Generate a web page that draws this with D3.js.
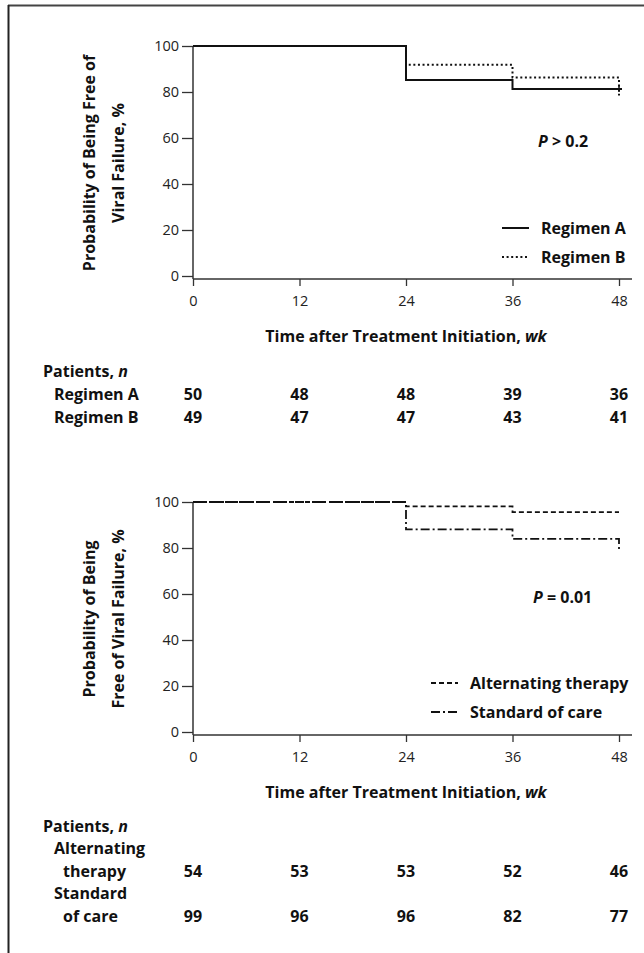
<!DOCTYPE html>
<html>
<head>
<meta charset="utf-8">
<script src="https://cdn.jsdelivr.net/npm/d3@7"></script>
<style>
  body { margin: 0; background: #fff; }
  svg text { font-family: "Open Sans", "Noto Sans", sans-serif; fill: #111; }
  .tick text { font-size: 14.5px; font-weight: 400; fill: #222; }
  .lbl { font-size: 16px; font-weight: 700; }
</style>
</head>
<body>
<svg id="chart"></svg>
<script>
const width = 644;
const height = 953;

const weeks = [0, 12, 24, 36, 48];
const yTicks = [0, 20, 40, 60, 80, 100];

// top panel: regimen A vs B
const regimenA = [{wk: 0, p: 100}, {wk: 24, p: 85.2}, {wk: 36, p: 81.3}, {wk: 48, p: 81.3}];
const regimenB = [{wk: 0, p: 100}, {wk: 24, p: 91.8}, {wk: 36, p: 86.3}, {wk: 48, p: 78.5}];
const regimenACensor = [48];
const atRiskA = [50, 48, 48, 39, 36];
const atRiskB = [49, 47, 47, 43, 41];

// bottom panel: alternating therapy vs standard of care
const alternating = [{wk: 0, p: 100}, {wk: 24, p: 98.1}, {wk: 36, p: 95.6}, {wk: 48, p: 95.6}];
const standard = [{wk: 0, p: 100}, {wk: 24, p: 88.1}, {wk: 36, p: 84.0}, {wk: 48, p: 78.7}];
const atRiskAlt = [54, 53, 53, 52, 46];
const atRiskStd = [99, 96, 96, 82, 77];

const svg = d3.select("#chart")
    .attr("width", width)
    .attr("height", height);

// frame lines (top and left only)
svg.append("line").attr("x1", 8).attr("x2", width).attr("y1", 5.5).attr("y2", 5.5)
    .attr("stroke", "#444").attr("stroke-width", 2);
svg.append("line").attr("x1", 8.5).attr("x2", 8.5).attr("y1", 5).attr("y2", height)
    .attr("stroke", "#222").attr("stroke-width", 2);

const x = d3.scaleLinear().domain([0, 48]).range([193, 619]);

const styles = {
    solid: {dash: null, w: 2},
    dotted: {dash: "2,2.6", w: 2},
    dashed: {dash: "5,3", w: 1.8},
    dashdot: {dash: "9,3,2,3", w: 1.8}
};

function drawPanel(cfg) {
    const y = d3.scaleLinear().domain([0, 100]).range([cfg.top + 230, cfg.top]);
    const axisY = cfg.top + 233;
    const g = svg.append("g");

    // y axis
    const yAxis = g.append("g")
        .attr("transform", `translate(${x(0)},0)`)
        .call(d3.axisLeft(y).tickValues(yTicks).tickSize(11).tickPadding(3));
    yAxis.select(".domain").remove();
    yAxis.selectAll("line").attr("stroke", "#333").attr("stroke-width", 1.3);

    // x axis
    const xAxis = g.append("g")
        .attr("transform", `translate(0,${axisY})`)
        .call(d3.axisBottom(x).tickValues(weeks).tickSize(7).tickPadding(10));
    xAxis.select(".domain").remove();
    xAxis.selectAll("line").attr("stroke", "#333").attr("stroke-width", 1.3);

    g.append("line").attr("x1", x(0)).attr("x2", x(0)).attr("y1", y(100)).attr("y2", axisY)
        .attr("stroke", "#333").attr("stroke-width", 1.5);
    g.append("line").attr("x1", x(0)).attr("x2", 632).attr("y1", axisY).attr("y2", axisY)
        .attr("stroke", "#333").attr("stroke-width", 1.5);

    // y axis title
    cfg.yTitle.forEach((t, i) => {
        g.append("text")
            .attr("class", "lbl")
            .attr("transform", `translate(${89 + i * 29},${cfg.top + 117}) rotate(-90)`)
            .attr("text-anchor", "middle")
            .attr("dominant-baseline", "central")
            .text(t);
    });

    // x axis title
    const xt = g.append("text")
        .attr("class", "lbl")
        .attr("x", 406).attr("y", cfg.top + 290)
        .attr("text-anchor", "middle")
        .attr("dominant-baseline", "central");
    xt.append("tspan").text("Time after Treatment Initiation, ");
    xt.append("tspan").attr("font-style", "italic").text("wk");

    // curves
    const line = d3.line().x(d => x(d.wk)).y(d => y(d.p)).curve(d3.curveStepAfter);
    cfg.series.forEach(s => {
        const st = styles[s.style];
        g.append("path")
            .datum(s.data)
            .attr("d", line)
            .attr("fill", "none")
            .attr("stroke", "#111")
            .attr("stroke-width", st.w)
            .attr("stroke-dasharray", st.dash);
        (s.censor || []).forEach(c => {
            const last = s.data[s.data.length - 1];
            g.append("line")
                .attr("x1", x(c)).attr("x2", x(c))
                .attr("y1", y(last.p) - 3).attr("y2", y(last.p) + 3)
                .attr("stroke", "#111").attr("stroke-width", 1.5);
            g.append("line")
                .attr("x1", x(c) - 3).attr("x2", x(c) + 3)
                .attr("y1", y(last.p)).attr("y2", y(last.p))
                .attr("stroke", "#111").attr("stroke-width", 2);
        });
    });

    // legend
    cfg.series.forEach((s, i) => {
        const st = styles[s.style];
        const ly = cfg.top + cfg.legendY + i * 29;
        g.append("line")
            .attr("x1", cfg.legendX).attr("x2", cfg.legendX + 27)
            .attr("y1", ly).attr("y2", ly)
            .attr("stroke", "#111")
            .attr("stroke-width", st.w)
            .attr("stroke-dasharray", st.dash);
        g.append("text")
            .attr("class", "lbl")
            .attr("x", cfg.legendX + 39).attr("y", ly)
            .attr("dominant-baseline", "central")
            .text(s.name);
    });

    // P value
    const pt = g.append("text")
        .attr("class", "lbl")
        .attr("x", cfg.pX).attr("y", y(58.5))
        .attr("dominant-baseline", "central");
    pt.append("tspan").attr("font-style", "italic").text("P");
    pt.append("tspan").text(cfg.pText);
}

drawPanel({
    top: 46,
    yTitle: ["Probability of Being Free of", "Viral Failure, %"],
    series: [
        {name: "Regimen A", data: regimenA, style: "solid", censor: regimenACensor},
        {name: "Regimen B", data: regimenB, style: "dotted"}
    ],
    legendX: 502, legendY: 182,
    pX: 538, pText: " > 0.2"
});

drawPanel({
    top: 502,
    yTitle: ["Probability of Being", "Free of Viral Failure, %"],
    series: [
        {name: "Alternating therapy", data: alternating, style: "dashed"},
        {name: "Standard of care", data: standard, style: "dashdot"}
    ],
    legendX: 431, legendY: 181,
    pX: 533, pText: " = 0.01"
});

// number-at-risk tables
function drawTable(top, rows) {
    const pl = svg.append("text")
        .attr("class", "lbl")
        .attr("x", 43).attr("y", top)
        .attr("dominant-baseline", "central");
    pl.append("tspan").text("Patients, ");
    pl.append("tspan").attr("font-style", "italic").text("n");

    rows.forEach(r => {
        r.label.forEach((t, i) => {
            svg.append("text")
                .attr("class", "lbl")
                .attr("x", i === 0 ? 54 : 63)
                .attr("y", r.y - (r.label.length - 1 - i) * 23)
                .attr("dominant-baseline", "central")
                .text(t);
        });
        svg.selectAll(null)
            .data(r.values)
            .enter()
            .append("text")
            .attr("class", "lbl")
            .attr("x", (d, i) => x(weeks[i]))
            .attr("y", r.y)
            .attr("text-anchor", "middle")
            .attr("dominant-baseline", "central")
            .text(d => d);
    });
}

drawTable(371, [
    {label: ["Regimen A"], values: atRiskA, y: 394},
    {label: ["Regimen B"], values: atRiskB, y: 416.5}
]);

drawTable(826, [
    {label: ["Alternating", "therapy"], values: atRiskAlt, y: 871},
    {label: ["Standard", "of care"], values: atRiskStd, y: 916}
]);
</script>
</body>
</html>
